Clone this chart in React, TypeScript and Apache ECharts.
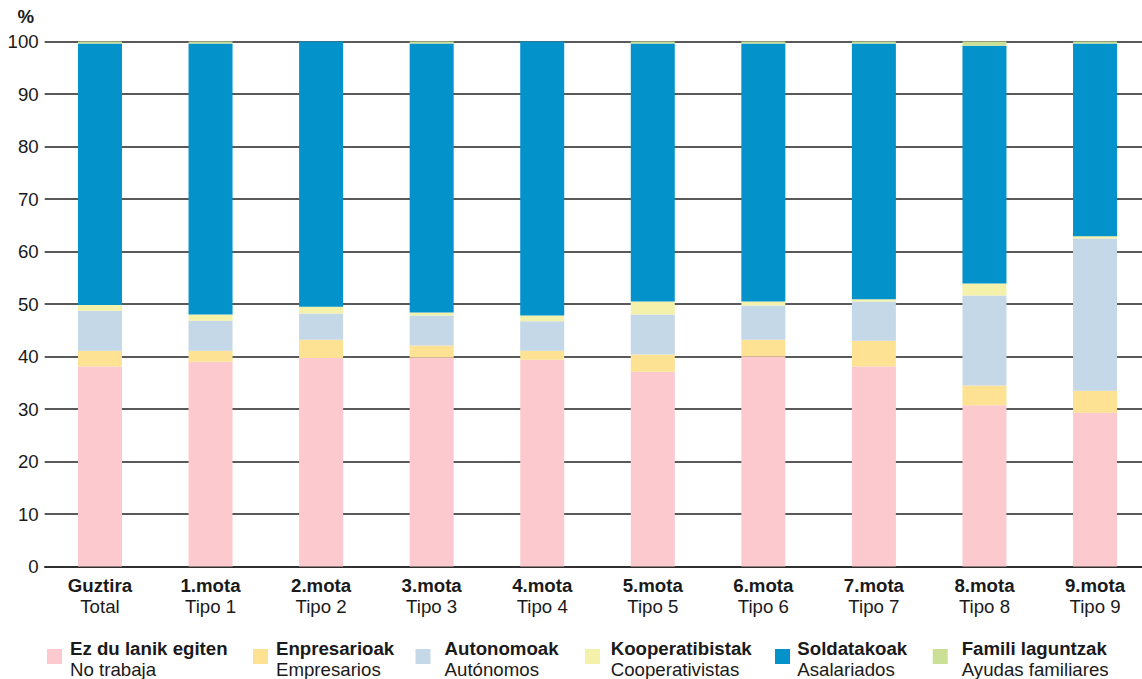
import React, { useEffect, useRef } from "react";
import * as echarts from "echarts";

const categoriesTop = ["Guztira", "1.mota", "2.mota", "3.mota", "4.mota", "5.mota", "6.mota", "7.mota", "8.mota", "9.mota"];
const categoriesBottom = ["Total", "Tipo 1", "Tipo 2", "Tipo 3", "Tipo 4", "Tipo 5", "Tipo 6", "Tipo 7", "Tipo 8", "Tipo 9"];

const noTrabaja = [38.1, 39.0, 39.7, 39.8, 39.4, 37.1, 40.0, 38.1, 30.7, 29.3];
const empresarios = [3.0, 2.1, 3.5, 2.3, 1.7, 3.3, 3.2, 4.9, 3.8, 4.2];
const autonomos = [7.6, 5.7, 5.0, 5.7, 5.6, 7.6, 6.5, 7.5, 17.1, 29.0];
const cooperativistas = [1.1, 1.2, 1.3, 0.6, 1.1, 2.5, 0.8, 0.4, 2.3, 0.4];
const asalariados = [49.8, 51.6, 50.5, 51.2, 52.2, 49.1, 49.1, 48.7, 45.3, 36.7];
const ayudas = [0.4, 0.4, 0, 0.4, 0, 0.4, 0.4, 0.4, 0.8, 0.4];

const seriesNamesEu = ["Ez du lanik egiten", "Enpresarioak", "Autonomoak", "Kooperatibistak", "Soldatakoak", "Famili laguntzak"];
const seriesNamesEs = ["No trabaja", "Empresarios", "Autónomos", "Cooperativistas", "Asalariados", "Ayudas familiares"];
const seriesData = [noTrabaja, empresarios, autonomos, cooperativistas, asalariados, ayudas];
const seriesColors = ["#FCC9CF", "#FCE292", "#C5D8E8", "#F3F1AA", "#0392C9", "#CBDF96"];
const legendSquareX = [47, 253, 415.5, 585, 775, 932.7];
const legendTextX = [70, 276, 444.6, 610.7, 797.3, 961.7];

const yTicks = [0, 10, 20, 30, 40, 50, 60, 70, 80, 90, 100];

const FONT = "'Liberation Sans', Arial, Helvetica, sans-serif";
const FS = 18.67;
const TEXT = "#1a1a1a";

export default function App() {
  const ref = useRef<HTMLDivElement>(null);
  useEffect(() => {
    if (!ref.current) return;
    const chart = echarts.init(ref.current, undefined, { renderer: "svg" });
    const option: any = {
      animation: false,
      backgroundColor: "#ffffff",
      textStyle: { fontFamily: FONT },
      title: {
        text: "%",
        left: 17.5,
        top: 7,
        padding: 0,
        textStyle: { fontFamily: FONT, fontWeight: "bold", fontSize: FS, color: TEXT },
      },
      grid: { left: 44.7, top: 41.5, right: 0.7, height: 525, containLabel: false },
      xAxis: {
        type: "category",
        data: categoriesTop,
        axisTick: { show: false },
        axisLine: { show: true, lineStyle: { color: "#222", width: 1.5 } },
        axisLabel: {
          interval: 0,
          margin: 8,
          formatter: (v: string, i: number) => `{b|${v}}\n{r|${categoriesBottom[i]}}`,
          rich: {
            b: { fontFamily: FONT, fontWeight: "bold", fontSize: FS, lineHeight: 21, color: TEXT },
            r: { fontFamily: FONT, fontSize: FS, lineHeight: 21, color: TEXT },
          },
        },
      },
      yAxis: {
        type: "value",
        min: yTicks[0],
        max: yTicks[yTicks.length - 1],
        interval: 10,
        axisLine: { show: false },
        axisTick: { show: false },
        axisLabel: { margin: 6, fontFamily: FONT, fontSize: FS, color: TEXT },
        splitLine: { show: true, lineStyle: { color: "#222", width: 1.5 } },
      },
      legend: seriesNamesEu.map((name, i) => ({
        data: [name],
        left: legendSquareX[i],
        top: 638.5,
        padding: 0,
        itemWidth: 15,
        itemHeight: 15,
        icon: "rect",
        selectedMode: false,
        formatter: (n: string) => `{b|${n}}\n{r|${seriesNamesEs[seriesNamesEu.indexOf(n)]}}`,
        textStyle: {
          padding: [4, 0, 0, legendTextX[i] - legendSquareX[i] - 20],
          rich: {
            b: { fontFamily: FONT, fontWeight: "bold", fontSize: FS, lineHeight: 21, color: TEXT },
            r: { fontFamily: FONT, fontSize: FS, lineHeight: 21, color: TEXT },
          },
        },
      })),
      series: seriesNamesEu.map((name, i) => ({
        name,
        type: "bar",
        stack: "total",
        barWidth: 44,
        data: seriesData[i],
        itemStyle: { color: seriesColors[i] },
        emphasis: { disabled: true },
      })),
    };
    chart.setOption(option);
    return () => chart.dispose();
  }, []);
  return (
    <div style={{ position: "fixed", left: 0, top: 0, width: 1142, height: 679, overflow: "hidden", background: "#fff" }}>
      <div ref={ref} style={{ width: 1151, height: 679 }} />
    </div>
  );
}
